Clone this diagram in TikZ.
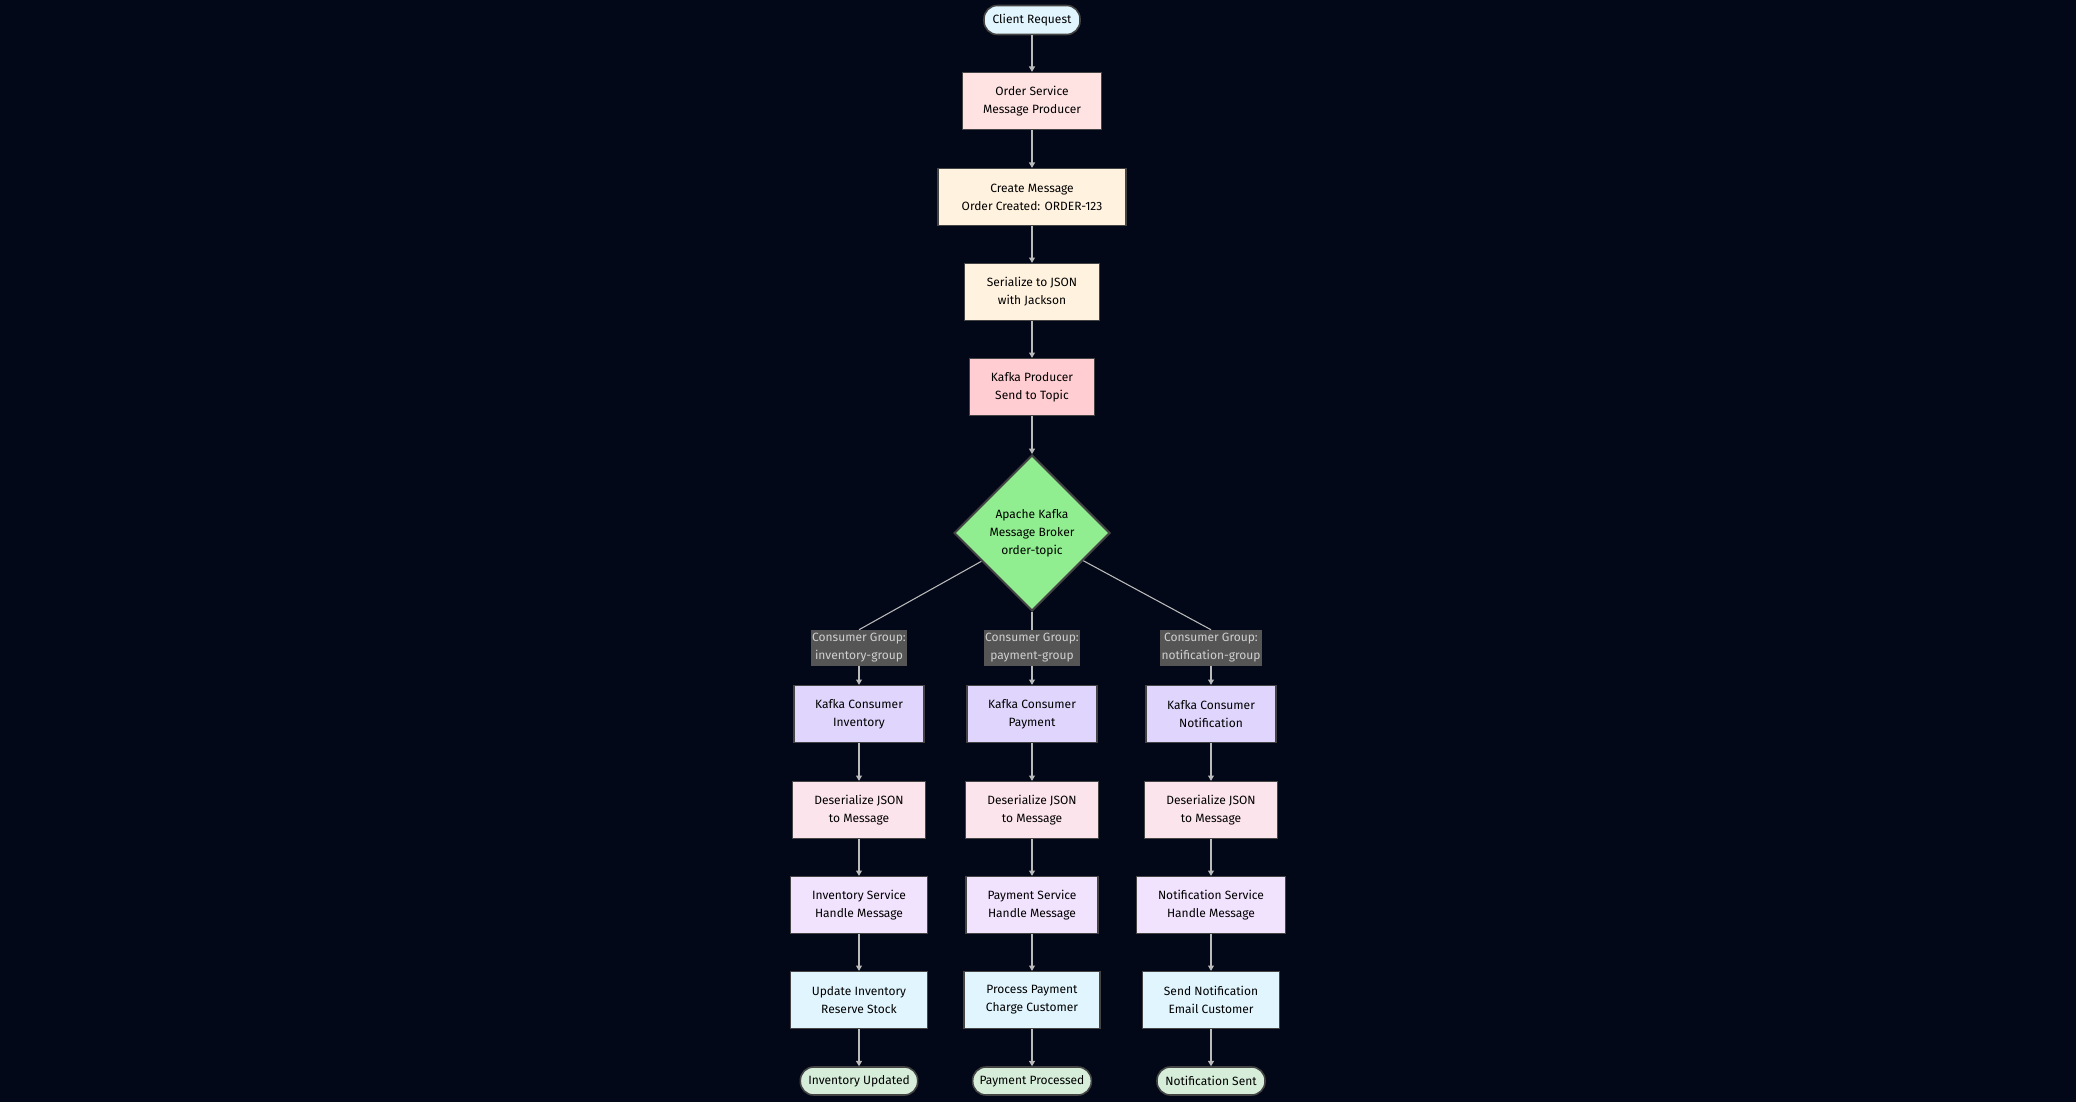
\documentclass[tikz,border=0pt]{standalone}
\usepackage{fontspec}
\setmainfont{Fira Sans}
\usetikzlibrary{shapes.geometric,arrows.meta}
\definecolor{bg}{HTML}{020817}
\definecolor{cli}{HTML}{E1F5FE}
\definecolor{ord}{HTML}{FFE2E2}
\definecolor{cre}{HTML}{FFF3E0}
\definecolor{pro}{HTML}{FFCDD2}
\definecolor{kaf}{HTML}{90EE90}
\definecolor{con}{HTML}{E0D6FD}
\definecolor{des}{HTML}{FCE4EC}
\definecolor{svc}{HTML}{F1E2FD}
\definecolor{upd}{HTML}{E1F5FE}
\definecolor{fin}{HTML}{D5EDD9}
\definecolor{bord}{HTML}{444444}
\definecolor{edge}{HTML}{BBBBBB}
\definecolor{lbl}{HTML}{555555}
\definecolor{lbltxt}{HTML}{D0D0D0}
\begin{document}
\begin{tikzpicture}[x=0.75pt,y=-0.75pt,
  every node/.style={font=\fontsize{9}{13.5}\selectfont,align=center,text=black},
  box/.style={draw=bord,line width=1pt,rectangle,minimum height=42.75pt,inner sep=0pt},
  pill/.style={draw=bord,line width=1.2pt,rounded corners=10pt,inner sep=0pt},
  grp/.style={fill=lbl,text=lbltxt,inner sep=1pt,minimum height=27pt},
  arr/.style={draw=edge,line width=0.8pt,-{Triangle[length=4pt,width=4.5pt]}},
  ln/.style={draw=edge,line width=0.8pt}]
\fill[bg] (0,0) rectangle (2076,1102);
\useasboundingbox (0,0) rectangle (2076,1102);
\node[pill,fill=cli,minimum width=72pt,minimum height=21.75pt] (cr) at (1032,20) {Client Request};
\node[box,fill=ord,minimum width=104pt] (os) at (1032,101) {Order Service\\Message Producer};
\node[box,fill=cre,minimum width=141pt] (cm) at (1032,197) {Create Message\\Order Created: ORDER-123};
\node[box,fill=cre,minimum width=101pt] (sj) at (1032,292) {Serialize to JSON\\with Jackson};
\node[box,fill=pro,minimum width=94pt] (kp) at (1032,387) {Kafka Producer\\Send to Topic};
\node[diamond,draw=bord,line width=1.5pt,fill=kaf,minimum width=117pt,minimum height=117pt,inner sep=0pt] (kb) at (1032,533) {Apache Kafka\\Message Broker\\order-topic};
\draw[arr] (cr) -- (os);
\draw[arr] (os) -- (cm);
\draw[arr] (cm) -- (sj);
\draw[arr] (sj) -- (kp);
\draw[arr] (kp) -- (kb);
\foreach \n/\x/\gw/\g/\cname/\cw/\sname/\sw/\ua/\ub/\uw/\fname/\fw in {
 i/859/69/inventory-group/Inventory/97.5/Inventory Service/103/Update Inventory/Reserve Stock/103/Inventory Updated/88,
 p/1032/70/payment-group/Payment/97.5/Payment Service/99/Process Payment/Charge Customer/102/Payment Processed/89,
 n/1211/73/notification-group/Notification/97.5/Notification Service/112/Send Notification/Email Customer/103/Notification Sent/81}{
  \node[grp,minimum width=\gw pt] (g\n) at (\x,648) {Consumer Group:\\\g};
  \node[box,fill=con,minimum width=\cw pt] (c\n) at (\x,714) {Kafka Consumer\\\cname};
  \node[box,fill=des,minimum width=100pt] (d\n) at (\x,810) {Deserialize JSON\\to Message};
  \node[box,fill=svc,minimum width=\sw pt] (s\n) at (\x,905) {\sname\\Handle Message};
  \node[box,fill=upd,minimum width=\uw pt] (u\n) at (\x,1000) {\ua\\\ub};
  \node[pill,fill=fin,minimum width=\fw pt,minimum height=21pt] (f\n) at (\x,1081) {\fname};
  \draw[arr] (g\n) -- (c\n);
  \draw[arr] (c\n) -- (d\n);
  \draw[arr] (d\n) -- (s\n);
  \draw[arr] (s\n) -- (u\n);
  \draw[arr] (u\n) -- (f\n);
}
\draw[ln] (kb) -- (gi.north);
\draw[ln] (kb) -- (gp);
\draw[ln] (kb) -- (gn.north);
\end{tikzpicture}
\end{document}
